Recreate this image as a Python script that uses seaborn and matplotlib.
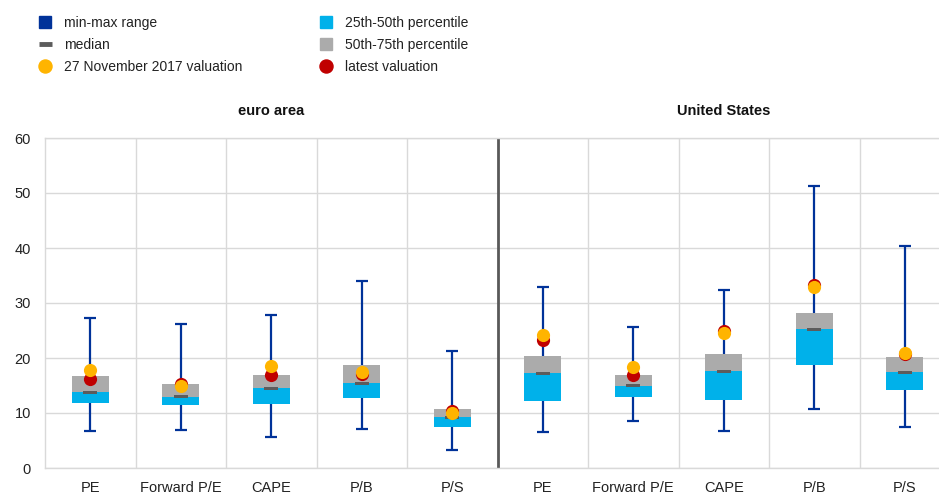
import numpy as np
import pandas as pd
import seaborn as sns
import matplotlib
matplotlib.use('Agg')
import matplotlib.pyplot as plt
from matplotlib.lines import Line2D

metrics = ['PE', 'Forward P/E', 'CAPE', 'P/B', 'P/S']
regions = ['euro area', 'United States']

# euro area
ea_min = [6.8, 6.9, 5.7, 7.1, 3.2]
ea_p25 = [11.8, 11.5, 11.7, 12.7, 7.5]
ea_median = [13.8, 13.0, 14.5, 15.4, 9.2]
ea_p75 = [16.7, 15.2, 16.9, 18.7, 10.7]
ea_max = [27.3, 26.2, 27.8, 34.0, 21.3]
ea_nov2017 = [17.8, 15.0, 18.6, 17.5, 10.0]
ea_latest = [16.2, 15.2, 17.0, 17.1, 10.4]

# United States
us_min = [6.6, 8.6, 6.7, 10.8, 7.5]
us_p25 = [12.1, 13.0, 12.4, 18.8, 14.1]
us_median = [17.2, 15.0, 17.6, 25.2, 17.4]
us_p75 = [20.3, 17.0, 20.7, 28.1, 20.1]
us_max = [32.9, 25.7, 32.4, 51.3, 40.3]
us_nov2017 = [24.1, 18.3, 24.5, 32.9, 20.9]
us_latest = [23.3, 16.9, 24.9, 33.3, 20.8]

df = pd.DataFrame({
    'region': [regions[0]] * 5 + [regions[1]] * 5,
    'metric': metrics + metrics,
    'min': ea_min + us_min,
    'p25': ea_p25 + us_p25,
    'median': ea_median + us_median,
    'p75': ea_p75 + us_p75,
    'max': ea_max + us_max,
    'nov2017': ea_nov2017 + us_nov2017,
    'latest': ea_latest + us_latest,
})
df['pos'] = np.arange(len(df))

BLUE = '#003299'
CYAN = '#00B1EA'
GREY = '#ABABAB'
DARK = '#5C5C5C'
GOLD = '#FFB400'
RED = '#C00000'
LIGHT = '#D9D9D9'

sns.set_theme(style='white')
plt.rcParams['font.family'] = ['Liberation Sans', 'DejaVu Sans']

fig = plt.figure(figsize=(9.39, 4.93), dpi=100)
ax = fig.add_axes([45 / 939, 25 / 493, 905 / 939, 330 / 493])

x = df['pos'].values
cap = 0.065
ax.vlines(x, df['min'], df['max'], color=BLUE, lw=1.6, zorder=2)
ax.hlines(df['min'], x - cap, x + cap, color=BLUE, lw=1.6, zorder=2)
ax.hlines(df['max'], x - cap, x + cap, color=BLUE, lw=1.6, zorder=2)
ax.bar(x, df['median'] - df['p25'], bottom=df['p25'], width=0.41,
       color=CYAN, linewidth=0, zorder=3)
ax.bar(x, df['p75'] - df['median'], bottom=df['median'], width=0.41,
       color=GREY, linewidth=0, zorder=3)
ax.bar(x, 0.55, bottom=df['median'] - 0.275, width=0.155,
       color=DARK, linewidth=0, zorder=4)

sns.scatterplot(data=df, x='pos', y='latest', color=RED, s=90, linewidth=0, zorder=5, ax=ax)
sns.scatterplot(data=df, x='pos', y='nov2017', color=GOLD, s=90, linewidth=0, zorder=6, ax=ax)

ax.set_xlim(-0.5, 9.5)
ax.set_ylim(0, 60)
ax.set_yticks(range(0, 61, 10))
ax.set_xticks(x)
ax.set_xticklabels(df['metric'])
ax.set_xticks(np.arange(0.5, 9.5, 1), minor=True)
ax.set_xlabel('')
ax.set_ylabel('')
ax.grid(axis='y', which='major', color=LIGHT, lw=1, zorder=0)
ax.grid(axis='x', which='minor', color=LIGHT, lw=1, zorder=0)
ax.set_axisbelow(True)
ax.axvline(4.5, color='#595959', lw=2, zorder=1)
ax.tick_params(axis='both', which='both', length=0, labelsize=10.5, colors='#222222')
ax.tick_params(axis='x', pad=9)
ax.tick_params(axis='y', pad=10)
for s in ax.spines.values():
    s.set_color(LIGHT)
    s.set_linewidth(1)

# panel titles
for i, r in enumerate(regions):
    ax.text(2 + 5 * i, 1.082, r, transform=ax.get_xaxis_transform(),
            ha='center', va='center', fontsize=10.5, fontweight='bold', color='#111111')

h1 = [
    Line2D([], [], marker='s', ls='', ms=8.6, color=BLUE),
    Line2D([], [], color=DARK, lw=3.5, solid_capstyle='butt'),
    Line2D([], [], marker='o', ls='', ms=9.4, color=GOLD),
]
l1 = ['min-max range', 'median', '27 November 2017 valuation']
h2 = [
    Line2D([], [], marker='s', ls='', ms=8.6, color=CYAN),
    Line2D([], [], marker='s', ls='', ms=8.6, color=GREY),
    Line2D([], [], marker='o', ls='', ms=9.4, color=RED),
]
l2 = ['25th-50th percentile', '50th-75th percentile', 'latest valuation']
leg_kw = dict(loc='upper left', frameon=False, fontsize=10, handlelength=0.9,
              handletextpad=0.9, labelspacing=0.58, borderpad=0, borderaxespad=0)
leg1 = fig.legend(h1, l1, bbox_to_anchor=(39 / 939, 1 - 16 / 493), **leg_kw)
leg2 = fig.legend(h2, l2, bbox_to_anchor=(320 / 939, 1 - 16 / 493), **leg_kw)
for leg in (leg1, leg2):
    for t in leg.get_texts():
        t.set_color('#222222')

fig.savefig('out.png', dpi=100)
